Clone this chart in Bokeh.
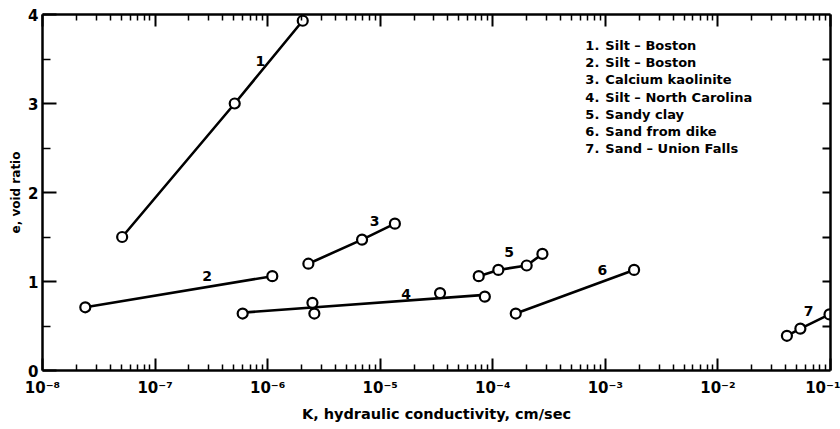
from bokeh.plotting import figure
from bokeh.models import (FixedTicker, LogAxis, LinearAxis, CustomJSTickFormatter, Label, Range1d)
from bokeh.core.properties import value
from bokeh.embed import file_html
from bokeh.resources import INLINE

# ---- data ----
k1 = [5.1e-8, 5.1e-7, 2.05e-6]
e1 = [1.50, 3.00, 3.93]
k2 = [2.4e-8, 1.1e-6]
e2 = [0.71, 1.06]
k3 = [2.3e-6, 6.9e-6, 1.35e-5]
e3 = [1.20, 1.47, 1.65]
k4 = [6.0e-7, 2.5e-6, 2.6e-6, 3.4e-5, 8.5e-5]
e4 = [0.64, 0.76, 0.64, 0.87, 0.83]
k4_fit = [6.0e-7, 8.5e-5]
e4_fit = [0.65, 0.85]
k5 = [7.5e-5, 1.12e-4, 2.0e-4, 2.76e-4]
e5 = [1.06, 1.13, 1.18, 1.31]
k6 = [1.6e-4, 1.8e-3]
e6 = [0.64, 1.13]
k7 = [0.041, 0.054, 0.098]
e7 = [0.39, 0.47, 0.63]

curve_ids = ["1", "2", "3", "4", "5", "6", "7"]
curve_label_k = [8.6e-7, 2.9e-7, 8.9e-6, 1.7e-5, 1.4e-4, 9.4e-4, 0.064]
curve_label_e = [3.48, 1.06, 1.68, 0.86, 1.33, 1.13, 0.67]

legend_nums = ["1.", "2.", "3.", "4.", "5.", "6.", "7."]
legend_names = ["Silt \u2013 Boston", "Silt \u2013 Boston", "Calcium kaolinite",
                "Silt \u2013 North Carolina", "Sandy clay", "Sand from dike",
                "Sand \u2013 Union Falls"]

x_decades = [1e-8, 1e-7, 1e-6, 1e-5, 1e-4, 1e-3, 1e-2, 1e-1]
y_major = [0, 1, 2, 3, 4]
y_minor = [0.5, 1.5, 2.5, 3.5]

FONT = "DejaVu Sans"

p = figure(width=840, height=429, x_axis_type="log", output_backend="svg",
           toolbar_location=None, x_range=Range1d(1e-8, 1e-1), y_range=Range1d(0, 4),
           min_border_left=42, min_border_right=10, min_border_top=14, min_border_bottom=59,
           x_axis_label="K, hydraulic conductivity, cm/sec", y_axis_label="e, void ratio")
p.outline_line_color = None
p.xgrid.visible = False
p.ygrid.visible = False
p.background_fill_color = "white"
p.border_fill_color = "white"

x_minor = [m * d for d in x_decades[:-1] for m in range(2, 10)]
xticker = FixedTicker(ticks=x_decades, minor_ticks=x_minor)
yticker = FixedTicker(ticks=y_major, minor_ticks=y_minor)

fmt = CustomJSTickFormatter(code="""
const e = Math.round(Math.log10(tick));
const sup = {'-':'\u207b','0':'\u2070','1':'\u00b9','2':'\u00b2','3':'\u00b3','4':'\u2074','5':'\u2075','6':'\u2076','7':'\u2077','8':'\u2078','9':'\u2079'};
return '10' + String(e).split('').map(c => sup[c]).join('');
""")

xa = p.xaxis[0]
xa.ticker = xticker
xa.formatter = fmt
ya = p.yaxis[0]
ya.ticker = yticker

for ax in (xa, ya):
    ax.axis_line_width = 2.5
    ax.axis_line_color = "black"
    ax.major_tick_out = 0
    ax.minor_tick_out = 0
    ax.major_tick_line_width = 2
    ax.minor_tick_line_width = 1.5
    ax.major_tick_line_color = "black"
    ax.minor_tick_line_color = "black"
    ax.major_label_text_font = FONT
    ax.major_label_text_font_style = "bold"
    ax.major_label_text_color = "black"
    ax.axis_label_text_font = FONT
    ax.axis_label_text_font_style = "bold"
    ax.axis_label_text_color = "black"

xa.major_tick_in = 12
xa.minor_tick_in = 6
xa.major_label_text_font_size = "15px"
xa.major_label_standoff = 8
xa.axis_label_standoff = 6
xa.axis_label_text_font_size = "14.5px"
ya.major_tick_in = 14
ya.minor_tick_in = 8
ya.major_label_text_font_size = "15px"
ya.major_label_standoff = 4
ya.axis_label_standoff = 2
ya.axis_label_text_font_size = "12px"

top = LogAxis(ticker=xticker, major_label_text_font_size="1px", major_label_text_alpha=0,
              major_label_standoff=0,
              major_tick_in=12, major_tick_out=0, minor_tick_in=6, minor_tick_out=0,
              axis_line_width=2.5, major_tick_line_width=2, minor_tick_line_width=1.5)
p.add_layout(top, "above")
right = LinearAxis(ticker=FixedTicker(ticks=y_minor + y_major[1:4], minor_ticks=[]),
                   major_label_text_font_size="1px", major_label_text_alpha=0,
                   major_label_standoff=0, major_tick_in=8, major_tick_out=0,
                   minor_tick_in=0, minor_tick_out=0, axis_line_width=2.5, major_tick_line_width=2)
p.add_layout(right, "right")

# ---- curves ----
series = [(k1, e1, k1, e1), (k2, e2, k2, e2), (k3, e3, k3, e3), (k4, e4, k4_fit, e4_fit),
          (k5, e5, k5, e5), (k6, e6, k6, e6), (k7, e7, k7, e7)]
for kp, ep, kl, el in series:
    p.line(kl, el, line_color="black", line_width=2.6)
    p.scatter(kp, ep, marker="circle", size=10, fill_color="white", line_color="black", line_width=2.2)

p.text(x=curve_label_k, y=curve_label_e, text=curve_ids, text_font=value(FONT),
       text_font_style="bold", text_font_size="14px", text_align="center",
       text_baseline="middle", text_color="black")

# ---- legend (numbered list) ----
def px_to_k(px):
    return 10 ** (-8 + (px - 42) / 112.6)
def py_to_e(py):
    return (370 - py) / 89.0

for i, (n, name) in enumerate(zip(legend_nums, legend_names)):
    yy = py_to_e(45 + i * 17.2)
    p.add_layout(Label(x=px_to_k(585), y=yy, text=n, text_font=FONT, text_font_style="bold",
                       text_font_size="13px", text_baseline="middle", text_color="black"))
    p.add_layout(Label(x=px_to_k(605), y=yy, text=name, text_font=FONT, text_font_style="bold",
                       text_font_size="13px", text_baseline="middle", text_color="black"))

open("out.html", "w").write(file_html(p, INLINE))
